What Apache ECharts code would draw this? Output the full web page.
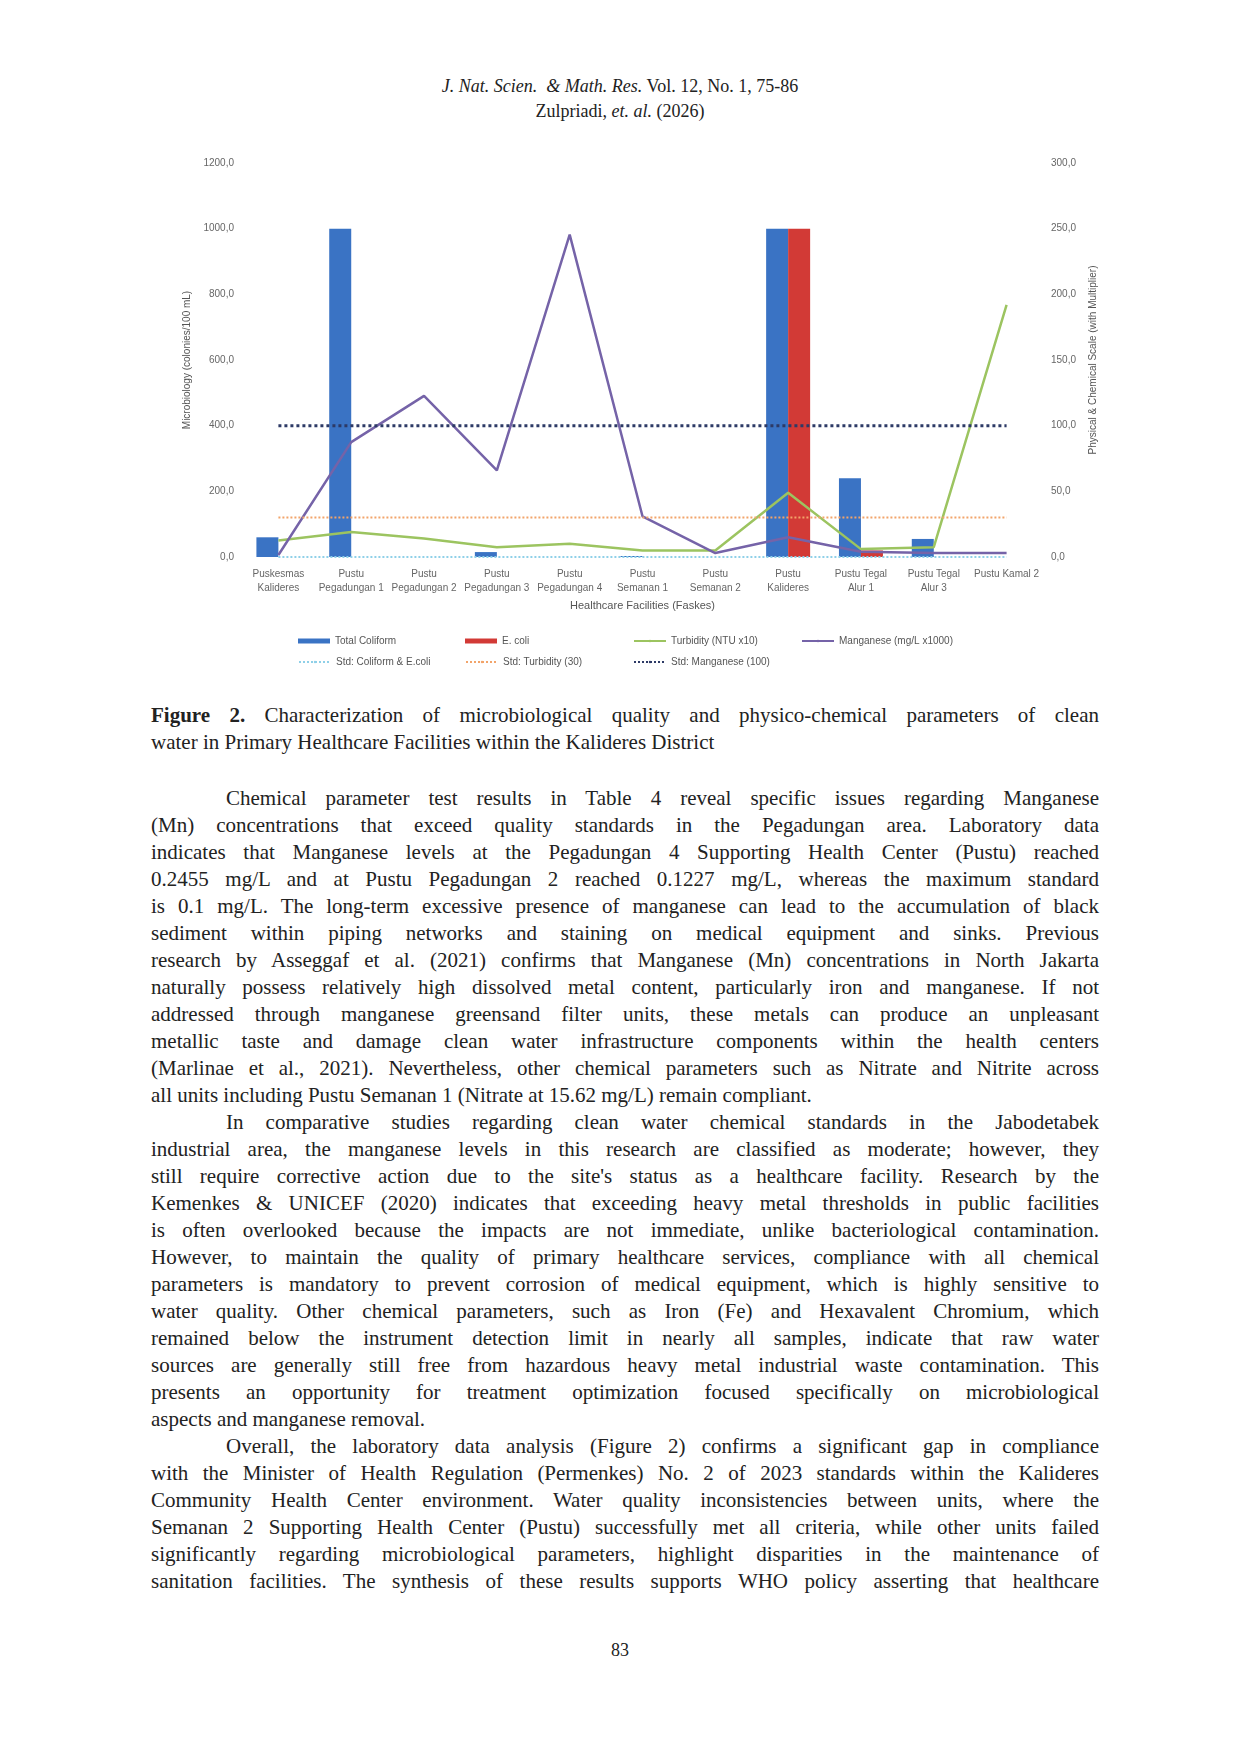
<!DOCTYPE html>
<html><head><meta charset="utf-8">
<script src="https://cdn.jsdelivr.net/npm/echarts@6/dist/echarts.min.js"></script>
<style>
body{margin:0;background:#fff;width:1240px;height:1754px;position:relative;font-family:"Liberation Serif","DejaVu Serif",serif;color:#222;}
.hdr{position:absolute;left:0;width:1240px;text-align:center;font-size:18px;}
.txt{position:absolute;left:151px;width:948px;font-size:21px;line-height:27px;}
.l{text-align:justify;text-align-last:justify;white-space:nowrap;}
.l.last{text-align-last:left;}
.ind{padding-left:75px;}
#chart{position:absolute;left:150px;top:140px;width:960px;height:540px;}
</style></head><body>
<div class="hdr" style="top:76px"><i>J. Nat. Scien. &nbsp;&amp; Math. Res.</i> Vol. 12, No. 1, 75-86</div>
<div class="hdr" style="top:101px">Zulpriadi, <i>et. al.</i> (2026)</div>
<div id="chart"></div>
<div class="txt" style="top:702px">
<div class="l"><b>Figure 2.</b> Characterization of microbiological quality and physico-chemical parameters of clean</div>
<div class="l last">water in Primary Healthcare Facilities within the Kalideres District</div>
</div>
<div class="txt" style="top:785px">
<div class="l ind">Chemical parameter test results in Table 4 reveal specific issues regarding Manganese</div>
<div class="l">(Mn) concentrations that exceed quality standards in the Pegadungan area. Laboratory data</div>
<div class="l">indicates that Manganese levels at the Pegadungan 4 Supporting Health Center (Pustu) reached</div>
<div class="l">0.2455 mg/L and at Pustu Pegadungan 2 reached 0.1227 mg/L, whereas the maximum standard</div>
<div class="l">is 0.1 mg/L. The long-term excessive presence of manganese can lead to the accumulation of black</div>
<div class="l">sediment within piping networks and staining on medical equipment and sinks. Previous</div>
<div class="l">research by Asseggaf et al. (2021) confirms that Manganese (Mn) concentrations in North Jakarta</div>
<div class="l">naturally possess relatively high dissolved metal content, particularly iron and manganese. If not</div>
<div class="l">addressed through manganese greensand filter units, these metals can produce an unpleasant</div>
<div class="l">metallic taste and damage clean water infrastructure components within the health centers</div>
<div class="l">(Marlinae et al., 2021). Nevertheless, other chemical parameters such as Nitrate and Nitrite across</div>
<div class="l last">all units including Pustu Semanan 1 (Nitrate at 15.62 mg/L) remain compliant.</div>
<div class="l ind">In comparative studies regarding clean water chemical standards in the Jabodetabek</div>
<div class="l">industrial area, the manganese levels in this research are classified as moderate; however, they</div>
<div class="l">still require corrective action due to the site's status as a healthcare facility. Research by the</div>
<div class="l">Kemenkes &amp; UNICEF (2020) indicates that exceeding heavy metal thresholds in public facilities</div>
<div class="l">is often overlooked because the impacts are not immediate, unlike bacteriological contamination.</div>
<div class="l">However, to maintain the quality of primary healthcare services, compliance with all chemical</div>
<div class="l">parameters is mandatory to prevent corrosion of medical equipment, which is highly sensitive to</div>
<div class="l">water quality. Other chemical parameters, such as Iron (Fe) and Hexavalent Chromium, which</div>
<div class="l">remained below the instrument detection limit in nearly all samples, indicate that raw water</div>
<div class="l">sources are generally still free from hazardous heavy metal industrial waste contamination. This</div>
<div class="l">presents an opportunity for treatment optimization focused specifically on microbiological</div>
<div class="l last">aspects and manganese removal.</div>
<div class="l ind">Overall, the laboratory data analysis (Figure 2) confirms a significant gap in compliance</div>
<div class="l">with the Minister of Health Regulation (Permenkes) No. 2 of 2023 standards within the Kalideres</div>
<div class="l">Community Health Center environment. Water quality inconsistencies between units, where the</div>
<div class="l">Semanan 2 Supporting Health Center (Pustu) successfully met all criteria, while other units failed</div>
<div class="l">significantly regarding microbiological parameters, highlight disparities in the maintenance of</div>
<div class="l">sanitation facilities. The synthesis of these results supports WHO policy asserting that healthcare</div>
</div>
<div class="hdr" style="top:1640px">83</div>
<script>
const categories = ["Puskesmas\nKalideres","Pustu\nPegadungan 1","Pustu\nPegadungan 2","Pustu\nPegadungan 3","Pustu\nPegadungan 4","Pustu\nSemanan 1","Pustu\nSemanan 2","Pustu\nKalideres","Pustu Tegal\nAlur 1","Pustu Tegal\nAlur 3","Pustu Kamal 2"];
const totalColiform = [60,1000,0,15,0,3,0,1000,240,55,0];
const eColi = [0,0,0,0,0,0,0,1000,20,0,0];
const turbidity = [12.5,19,14,7.5,10,5,5,49,6,7.5,192];
const manganese = [1.5,87.5,122.7,66,245.5,31,3,15,4,3,3];
const stdColiform = [0,0,0,0,0,0,0,0,0,0,0];
const stdTurbidity = [30,30,30,30,30,30,30,30,30,30,30];
const stdManganese = [100,100,100,100,100,100,100,100,100,100,100];

const chart = echarts.init(document.getElementById('chart'));
const fmt = v => v.toFixed(1).replace('.', ',');
const lbl = {color:'#666',fontSize:10,fontFamily:'Liberation Sans'};
const lg = (name,left,top,icon) => ({data:[{name,icon}],left,top,itemWidth:32,itemHeight:icon==='rect'?5:3,textStyle:{color:'#555',fontSize:10,fontFamily:'Liberation Sans'}});
chart.setOption({
  animation:false,
  grid:{left:92,right:67,top:23,bottom:123},
  legend:[
    lg('Total Coliform',143,491,'rect'),lg('E. coli',310,491,'rect'),
    lg('Turbidity (NTU x10)',478,491),lg('Manganese (mg/L x1000)',646,491),
    lg('Std: Coliform & E.coli',143,512),lg('Std: Turbidity (30)',310,512),lg('Std: Manganese (100)',478,512)
  ],
  xAxis:{type:'category',data:categories,name:'Healthcare Facilities (Faskes)',nameLocation:'middle',nameGap:43,
    nameTextStyle:{color:'#555',fontSize:11,fontFamily:'Liberation Sans'},
    axisLine:{show:false},axisTick:{show:false},axisLabel:Object.assign({interval:0,lineHeight:14,margin:10},lbl)},
  yAxis:[
    {type:'value',min:0,max:1200,interval:200,splitLine:{show:false},axisLabel:Object.assign({formatter:fmt},lbl),
     name:'Microbiology (colonies/100 mL)',nameLocation:'middle',nameGap:50,nameTextStyle:{color:'#555',fontSize:10,fontFamily:'Liberation Sans'}},
    {type:'value',min:0,max:300,interval:50,splitLine:{show:false},axisLabel:Object.assign({formatter:fmt},lbl),
     name:'Physical & Chemical Scale (with Multiplier)',nameLocation:'middle',nameGap:45,nameTextStyle:{color:'#555',fontSize:10,fontFamily:'Liberation Sans'}}
  ],
  series:[
    {name:'Total Coliform',type:'bar',data:totalColiform,barWidth:22,barGap:'0%',itemStyle:{color:'#3a73c4'}},
    {name:'E. coli',type:'bar',data:eColi,barWidth:22,itemStyle:{color:'#d23a36'}},
    {name:'Turbidity (NTU x10)',type:'line',yAxisIndex:1,data:turbidity,symbol:'none',lineStyle:{color:'#9cc460',width:2.5},itemStyle:{color:'#9cc460'}},
    {name:'Manganese (mg/L x1000)',type:'line',yAxisIndex:1,data:manganese,symbol:'none',lineStyle:{color:'#7563a8',width:2.5},itemStyle:{color:'#7563a8'}},
    {name:'Std: Coliform & E.coli',type:'line',data:stdColiform,symbol:'none',lineStyle:{color:'#8fd0e8',width:2,type:'dotted'},itemStyle:{color:'#8fd0e8'}},
    {name:'Std: Turbidity (30)',type:'line',yAxisIndex:1,data:stdTurbidity,symbol:'none',lineStyle:{color:'#f2a46a',width:2,type:'dotted'},itemStyle:{color:'#f2a46a'}},
    {name:'Std: Manganese (100)',type:'line',yAxisIndex:1,data:stdManganese,symbol:'none',lineStyle:{color:'#2d3a66',width:3,type:'dotted'},itemStyle:{color:'#2d3a66'}}
  ]
});
</script>
</body></html>
